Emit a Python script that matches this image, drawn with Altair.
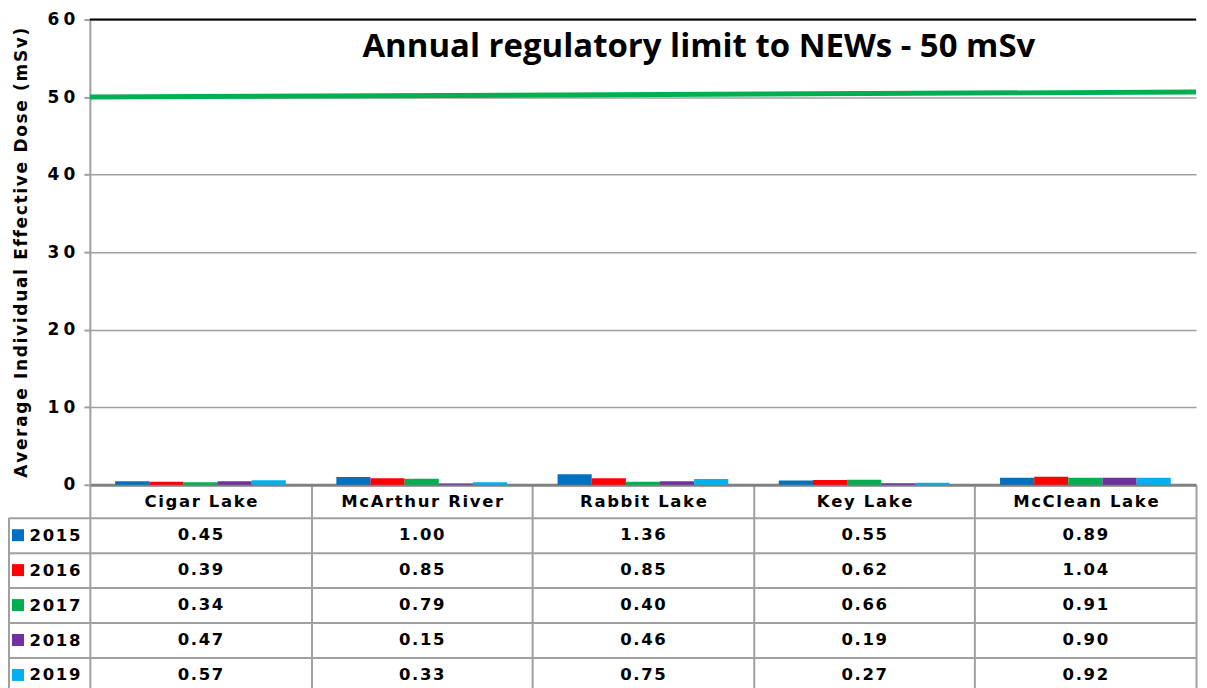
import altair as alt
import pandas as pd

# ---- data ----
sites = ["Cigar Lake", "McArthur River", "Rabbit Lake", "Key Lake", "McClean Lake"]
years = ["2015", "2016", "2017", "2018", "2019"]
dose_2015 = [0.45, 1.00, 1.36, 0.55, 0.89]
dose_2016 = [0.39, 0.85, 0.85, 0.62, 1.04]
dose_2017 = [0.34, 0.79, 0.40, 0.66, 0.91]
dose_2018 = [0.47, 0.15, 0.46, 0.19, 0.90]
dose_2019 = [0.57, 0.33, 0.75, 0.27, 0.92]
year_colors = ["#0070C0", "#FF0000", "#00B050", "#7030A0", "#00B0F0"]
y_ticks = [0, 10, 20, 30, 40, 50, 60]
limit_start = [50.0]
limit_end = [50.65]
title_text = ["Annual regulatory limit to NEWs - 50 mSv"]
y_title = "Average Individual Effective Dose (mSv)"

series = [dose_2015, dose_2016, dose_2017, dose_2018, dose_2019]
rows = []
for yr, vals in zip(years, series):
    for s, v in zip(sites, vals):
        rows.append({"site": s, "year": yr, "value": v})
df = pd.DataFrame(rows)

HAIR = "\u200a"
QSP = "\u2005"
spaced_expr = "join(split(datum.label, ''), '" + HAIR + "')"
spaced_tick_expr = "join(split(datum.label, ''), '" + QSP + "')"


def spaced(t):
    return HAIR.join(list(t))


W = 1108
H_TOP = 466
H_TAB = 175
GAP = 33
GRID = "#A0A0A0"
FONT = "DejaVu Sans"

x_scale = alt.Scale(domain=sites, paddingInner=0, paddingOuter=0)
color_scale = alt.Scale(domain=years, range=year_colors)
y_scale = alt.Scale(domain=[0, 60], nice=False)

bars = alt.Chart(df).mark_bar().encode(
    x=alt.X(
        "site:N",
        sort=sites,
        scale=x_scale,
        axis=alt.Axis(
            title=None,
            orient="bottom",
            tickBand="extent",
            ticks=True,
            tickSize=GAP,
            tickColor=GRID,
            tickWidth=2,
            domain=True,
            domainColor="#808080",
            domainWidth=3,
            grid=False,
            labelAngle=0,
            labelPadding=-16,
            labelBaseline="middle",
            labelFont=FONT,
            labelFontSize=16.5,
            labelFontWeight="bold",
            labelColor="black",
            labelLimit=400,
            labelExpr=spaced_expr,
        ),
    ),
    xOffset=alt.XOffset(
        "year:N", sort=years, scale=alt.Scale(domain=years, paddingInner=0, paddingOuter=0.74)
    ),
    y=alt.Y(
        "value:Q",
        scale=y_scale,
        axis=alt.Axis(
            values=y_ticks,
            title=spaced(y_title),
            titleFont=FONT,
            titleFontSize=17,
            titleFontWeight="bold",
            titleColor="black",
            titleAngle=270,
            titleAlign="center",
            titleBaseline="middle",
            titleX=-68,
            titleY=H_TOP / 2,
            labelFont=FONT,
            labelFontSize=17,
            labelFontWeight="bold",
            labelColor="black",
            labelPadding=9,
            labelExpr=spaced_tick_expr,
            tickSize=6,
            tickColor=GRID,
            tickWidth=2,
            domainColor=GRID,
            domainWidth=2,
            grid=True,
            gridColor=GRID,
            gridWidth=1.5,
        ),
    ),
    color=alt.Color("year:N", scale=color_scale, legend=None),
)

limit_df = pd.DataFrame({"y": limit_start, "y2": limit_end})
limit_line = alt.Chart(limit_df).mark_rule(color="#00B050", strokeWidth=5).encode(
    x=alt.value(0), x2=alt.value(W), y=alt.Y("y:Q", scale=y_scale), y2="y2:Q"
)

top_border = alt.Chart(pd.DataFrame({"y": [y_ticks[-1]]})).mark_rule(
    color="black", strokeWidth=2
).encode(y=alt.Y("y:Q", scale=y_scale))

title = alt.Chart(pd.DataFrame({"t": title_text})).mark_text(
    font="Open Sans", fontSize=33, fontWeight="bold", color="black", align="center", baseline="alphabetic"
).encode(x=alt.value(610), y=alt.value(38), text="t:N")

top = alt.layer(bars, top_border, limit_line, title).properties(width=W, height=H_TOP)

# ---- data table ----
tab_text = alt.Chart(df).transform_calculate(
    label="join(split(format(datum.value, '.2f'), ''), '" + HAIR + "')"
).mark_text(font=FONT, fontSize=16.5, fontWeight="bold", color="black").encode(
    x=alt.X(
        "site:N",
        sort=sites,
        scale=x_scale,
        axis=alt.Axis(
            title=None,
            labels=False,
            ticks=False,
            domain=False,
            grid=True,
            tickBand="extent",
            gridColor=GRID,
            gridWidth=2,
        ),
    ),
    y=alt.Y(
        "year:N",
        sort=years,
        scale=alt.Scale(domain=years, paddingInner=0, paddingOuter=0),
        axis=alt.Axis(
            title=None,
            grid=True,
            tickBand="extent",
            gridColor=GRID,
            gridWidth=2,
            ticks=True,
            tickSize=81,
            tickColor=GRID,
            tickWidth=2,
            domain=False,
            labelPadding=-71,
            labelFont=FONT,
            labelFontSize=16.5,
            labelFontWeight="bold",
            labelColor="black",
            labelExpr=spaced_expr,
        ),
    ),
    text="label:N",
)

swatches = alt.Chart(pd.DataFrame({"year": years})).mark_square(size=144, opacity=1).encode(
    x=alt.value(-72),
    y=alt.Y("year:N", sort=years),
    color=alt.Color("year:N", scale=color_scale, legend=None),
)

left_border = alt.Chart(pd.DataFrame({"k": [0]})).mark_rule(color=GRID, strokeWidth=2).encode(
    x=alt.value(-81), y=alt.value(0), y2=alt.value(H_TAB)
)

table = alt.layer(tab_text, swatches, left_border).properties(width=W, height=H_TAB)

chart = (
    alt.vconcat(top, table, spacing=GAP, bounds="flush")
    .properties(padding={"left": 0, "top": 2, "right": 0, "bottom": 0}, background="white")
    .configure_view(stroke=None)
)

chart.save("out.html", embed_options={"renderer": "svg", "actions": False})
